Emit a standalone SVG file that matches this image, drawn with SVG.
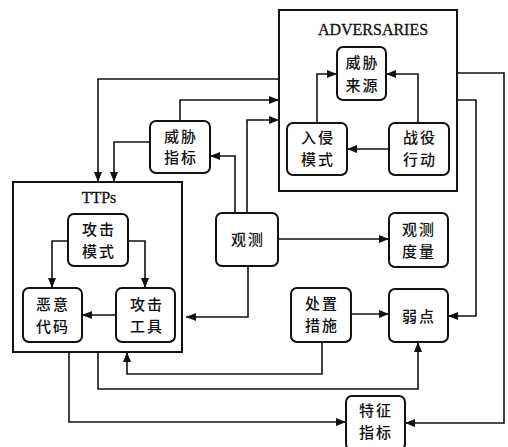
<svg xmlns="http://www.w3.org/2000/svg" width="508" height="447" viewBox="0 0 508 447">
<defs>
<marker id="ah" viewBox="0 0 10 8" refX="10" refY="4" markerWidth="10" markerHeight="8" markerUnits="userSpaceOnUse" orient="auto">
<path d="M0,0 L10,4 L0,8 Z" fill="#111"/>
</marker>
</defs>
<style>
.grp{fill:#fff;stroke:#111;stroke-width:2}
.nd{fill:#fff;stroke:#111;stroke-width:2}
.c{fill:none;stroke:#111;stroke-width:1.6;marker-end:url(#ah)}
.t{font-family:"Noto Sans CJK SC","Noto Sans CJK JP",sans-serif;font-size:15px;font-weight:500;letter-spacing:2px;fill:#111;text-anchor:middle}
.h{font-family:"Liberation Serif",serif;font-size:16px;fill:#111;text-anchor:middle;stroke:#111;stroke-width:0.3}
</style>
<rect width="508" height="447" fill="#fff"/>
<g id="ADVERSARIES">
<rect class="grp" x="279" y="10" width="178" height="181"/>
<text class="h" x="373" y="35">ADVERSARIES</text>
</g>
<g id="TTPs">
<rect class="grp" x="13" y="182" width="169" height="170"/>
<text class="h" x="99" y="203">TTPs</text>
</g>
<g id="threat-source">
<rect class="nd" x="337" y="47" width="49" height="53" rx="6"/>
<text class="t" x="362.5" y="68">威胁</text>
<text class="t" x="362.5" y="91">来源</text>
</g>
<g id="intrusion-mode">
<rect class="nd" x="287" y="123" width="60" height="52" rx="6"/>
<text class="t" x="318" y="143">入侵</text>
<text class="t" x="318" y="165">模式</text>
</g>
<g id="campaign">
<rect class="nd" x="389" y="123" width="60" height="52" rx="6"/>
<text class="t" x="420" y="143">战役</text>
<text class="t" x="420" y="165">行动</text>
</g>
<g id="threat-indicator">
<rect class="nd" x="150" y="121" width="60" height="52" rx="6"/>
<text class="t" x="181" y="142">威胁</text>
<text class="t" x="181" y="163">指标</text>
</g>
<g id="attack-pattern">
<rect class="nd" x="68" y="214" width="60" height="52" rx="6"/>
<text class="t" x="99" y="235">攻击</text>
<text class="t" x="99" y="257">模式</text>
</g>
<g id="malware">
<rect class="nd" x="23" y="288" width="59" height="54" rx="6"/>
<text class="t" x="53" y="310">恶意</text>
<text class="t" x="53" y="332">代码</text>
</g>
<g id="attack-tool">
<rect class="nd" x="116" y="288" width="59" height="54" rx="6"/>
<text class="t" x="147" y="310">攻击</text>
<text class="t" x="147" y="332">工具</text>
</g>
<g id="observation">
<rect class="nd" x="216" y="213" width="62" height="53" rx="6"/>
<text class="t" x="248" y="245">观测</text>
</g>
<g id="observation-metric">
<rect class="nd" x="389" y="213" width="59" height="54" rx="6"/>
<text class="t" x="419" y="235">观测</text>
<text class="t" x="419" y="257">度量</text>
</g>
<g id="course-of-action">
<rect class="nd" x="291" y="288" width="60" height="54" rx="6"/>
<text class="t" x="322" y="309">处置</text>
<text class="t" x="322" y="331">措施</text>
</g>
<g id="vulnerability">
<rect class="nd" x="389" y="289" width="59" height="53" rx="6"/>
<text class="t" x="419" y="322">弱点</text>
</g>
<g id="indicator">
<rect class="nd" x="346" y="396" width="59" height="54" rx="6"/>
<text class="t" x="376" y="416">特征</text>
<text class="t" x="376" y="438">指标</text>
</g>
<g id="connectors">
<path class="c" d="M317,123 V74 H337"/>
<path class="c" d="M418,123 V74 H386"/>
<path class="c" d="M389,149 H347"/>
<path class="c" d="M457,73 H504 V423 H405"/>
<path class="c" d="M457,100 H476 V316 H448"/>
<path class="c" d="M279,79 H98 V182"/>
<path class="c" d="M180,121 V100 H279"/>
<path class="c" d="M247,213 V120 H279"/>
<path class="c" d="M235,213 V156 H210"/>
<path class="c" d="M150,142 H114 V182"/>
<path class="c" d="M68,241 H52 V288"/>
<path class="c" d="M128,241 H145 V288"/>
<path class="c" d="M116,315 H82"/>
<path class="c" d="M278,239 H389"/>
<path class="c" d="M248,266 V317 H186"/>
<path class="c" d="M351,314 H389"/>
<path class="c" d="M322,342 V374 H127 V352"/>
<path class="c" d="M98,352 V389 H418 V342"/>
<path class="c" d="M69,352 V422 H346"/>
</g>
</svg>
